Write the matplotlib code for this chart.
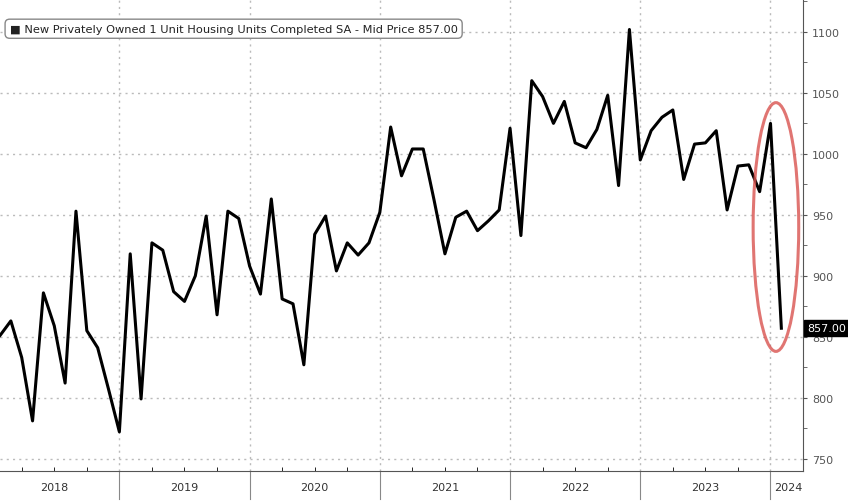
import matplotlib
matplotlib.use("Agg")
import matplotlib.pyplot as plt
from matplotlib.patches import Ellipse
import numpy as np

# Monthly completions, Jan 2018 .. Jan 2024 (thousands, SAAR)
values = [
    851, 863, 833, 781, 886, 859, 812, 953, 855, 841, 807, 772,
    918, 799, 927, 921, 887, 879, 900, 949, 868, 953, 947, 908,
    885, 963, 881, 877, 827, 934, 949, 904, 927, 917, 927, 952,
    1022, 982, 1004, 1004, 962, 918, 948, 953, 937, 945, 954, 1021,
    933, 1060, 1047, 1025, 1043, 1009, 1005, 1020, 1048, 974, 1102, 995,
    1019, 1030, 1036, 979, 1008, 1009, 1019, 954, 990, 991, 969, 1025,
    857,
]
years = ["2018", "2019", "2020", "2021", "2022", "2023", "2024"]
y_ticks = [750, 800, 850, 900, 950, 1000, 1050, 1100]
last_value = values[-1]

x = np.arange(len(values))

fig = plt.figure(figsize=(8.48, 5.02), dpi=100)
ax = fig.add_axes([0.0, 0.06, 0.947, 0.94])

ax.plot(x, values, color="black", linewidth=2.2, zorder=3)

ax.set_xlim(0, 74)
ax.set_ylim(740, 1127)

# year separators (December) and labels
sep = [11, 23, 35, 47, 59, 71]
for s in sep:
    ax.axvline(s, color="#bbbbbb", linestyle=(0, (1.5, 3)), linewidth=1, zorder=1)
for yv in y_ticks:
    ax.axhline(yv, color="#bbbbbb", linestyle=(0, (1.5, 3)), linewidth=1, zorder=1)

ax.set_xticks(sep)
ax.set_xticklabels([])
ax.tick_params(axis="x", length=0)
ax.set_xticks(np.arange(2, 74, 3), minor=True)
ax.tick_params(axis="x", which="minor", length=3, direction="in")
label_pos = [5, 17, 29, 41, 53, 65, 72.6]
for p, yr in zip(label_pos, years):
    ax.text(p, -0.035, yr, transform=ax.get_xaxis_transform(),
            ha="center", va="center", fontsize=8, color="#333333")
for s in sep:
    ax.plot([s, s], [0, -0.06], transform=ax.get_xaxis_transform(),
            color="#888888", linewidth=0.8, clip_on=False)

ax.yaxis.tick_right()
ax.set_yticks(y_ticks)
ax.set_yticklabels([str(v) for v in y_ticks], fontsize=8, color="#333333")
ax.set_yticks(np.arange(775, 1126, 50), minor=True)
ax.tick_params(axis="y", which="both", length=3, direction="out", colors="#555555")

for side in ["top", "left"]:
    ax.spines[side].set_visible(False)
ax.spines["right"].set_color("#555555")
ax.spines["bottom"].set_color("#555555")

# highlight ellipse
ax.add_patch(Ellipse((71.5, 940), 4.2, 204, fill=False,
                     edgecolor="#d9534f", linewidth=2.2, alpha=0.8, zorder=4))

# last value tag
ax.text(1.005, last_value, f"{last_value:.2f}", transform=ax.get_yaxis_transform(),
        ha="left", va="center", fontsize=8, color="white",
        bbox=dict(boxstyle="square,pad=0.25", facecolor="black", edgecolor="black"))

# legend box
ax.text(0.012, 0.937, "\u25a0 New Privately Owned 1 Unit Housing Units Completed SA - Mid Price "
        f"{last_value:.2f}", transform=ax.transAxes, ha="left", va="center",
        fontsize=8.2, color="#222222", zorder=5,
        bbox=dict(boxstyle="round,pad=0.4", facecolor="white", edgecolor="#888888"))

fig.savefig("out.png", dpi=100)
